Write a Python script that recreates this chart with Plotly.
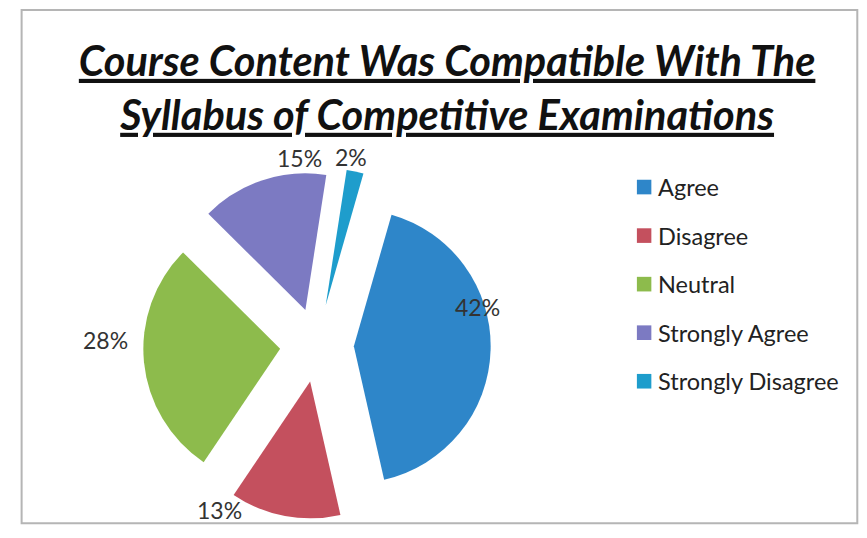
import math
import plotly.graph_objects as go

# survey responses
labels = ["Agree", "Disagree", "Neutral", "Strongly Agree", "Strongly Disagree"]
values = [42, 13, 28, 15, 2]
colors = ["#2E86C9", "#C4505E", "#8DBB4C", "#7C7AC2", "#1E9DCC"]

FONT = "Lato, Open Sans, sans-serif"
W, H = 851, 522
ROT = 16
DOM_X = [0.154, 0.572]
DOM_Y = [0.013, 0.695]

# "best fit" style label placement: angle nudge (deg) and distance (px) per slice
lab_shift = [-15, 20, 7, 13, -2]
lab_dist = [165, 191, 211, 188, 191]

fig = go.Figure()

fig.add_trace(go.Pie(
    labels=labels,
    values=values,
    sort=False,
    direction="clockwise",
    rotation=ROT,
    pull=[0.27, 0.27, 0.27, 0.27, 0.3],
    marker=dict(colors=colors, line=dict(width=0)),
    textinfo="none",
    domain=dict(x=DOM_X, y=DOM_Y),
    automargin=False,
    showlegend=False,
))

# percentage labels around the pie
cx = (DOM_X[0] + DOM_X[1]) / 2 * W
cy = (DOM_Y[0] + DOM_Y[1]) / 2 * H
total = sum(values)
cum = 0
for v, sh, d in zip(values, lab_shift, lab_dist):
    ang = math.radians(ROT + 360 * (cum + v / 2) / total + sh)
    cum += v
    fig.add_annotation(x=(cx + d * math.sin(ang)) / W, y=(cy + d * math.cos(ang)) / H,
                       xref="paper", yref="paper", showarrow=False,
                       xanchor="center", yanchor="middle",
                       text=f"{round(100 * v / total)}%",
                       font=dict(family=FONT, size=23, color="#333333"))

# legend drawn by hand so the row spacing matches
for i, (lab, col) in enumerate(zip(labels, colors)):
    yy = 0.657 - i * 0.093
    fig.add_shape(type="rect", xref="paper", yref="paper",
                  x0=0.739, x1=0.756, y0=yy - 0.014, y1=yy + 0.014,
                  fillcolor=col, line=dict(width=0))
    fig.add_annotation(x=0.762, y=yy, xref="paper", yref="paper",
                       text=lab, showarrow=False, xanchor="left", yanchor="middle",
                       font=dict(family=FONT, size=23.5, color="#222222"))

# frame of the scanned chart
fig.add_shape(type="rect", xref="paper", yref="paper",
              x0=0.016, x1=0.998, y0=0.013, y1=0.996,
              line=dict(color="#b5b5b5", width=2))

fig.update_layout(
    width=W, height=H, autosize=False,
    margin=dict(l=0, r=0, t=0, b=0, autoexpand=False),
    paper_bgcolor="white",
    showlegend=False,
    title=dict(
        text="<b><i><u>Course Content Was Compatible With The</u></i></b><br>"
             "<b><i><u>Syllabus of Competitive Examinations</u></i></b>",
        x=0.516, xanchor="center", y=0.87, yanchor="top", automargin=False,
        font=dict(family=FONT, size=41.5, color="#111111"),
    ),
)

fig.write_html("out.html")
